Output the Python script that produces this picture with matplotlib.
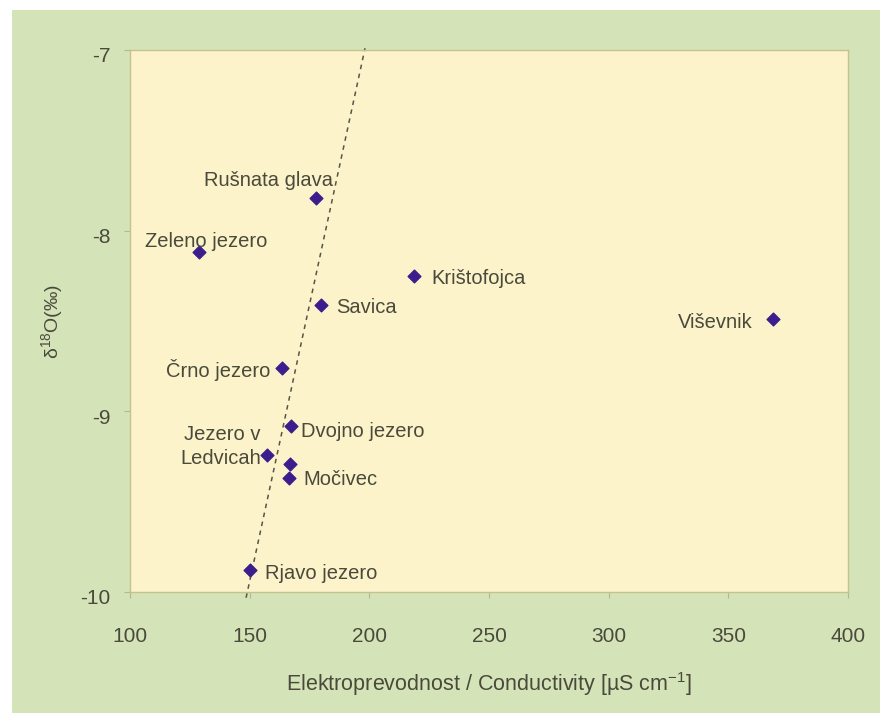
import matplotlib
matplotlib.use("Agg")
import matplotlib.pyplot as plt
import matplotlib.transforms as mtransforms
from matplotlib.patches import Rectangle

plt.rcParams["font.family"] = ["Liberation Sans", "DejaVu Sans"]
plt.rcParams["mathtext.fontset"] = "custom"
plt.rcParams["mathtext.rm"] = "Liberation Sans"

# lakes: conductivity [uS/cm] vs delta 18O [permil]
names = ["Rušnata glava", "Zeleno jezero", "Krištofojca", "Savica", "Viševnik",
         "Črno jezero", "Dvojno jezero", "Jezero v\nLedvicah", "", "Močivec",
         "Rjavo jezero"]
cond = [177.7, 128.8, 218.7, 179.8, 368.7, 163.5, 167.3, 157.2, 166.9, 166.4, 150.1]
d18o = [-7.82, -8.12, -8.25, -8.41, -8.49, -8.76, -9.08, -9.24, -9.29, -9.37, -9.88]

# label offsets in pixels (dx, dy) and alignment
lab_dx = [17, 7, 17, 15, -20, -12, 10, -6, 0, 14, 15]
lab_dy = [18, 11, -3, -3, -3, -2, -6, 8, 0, -1, -3]
lab_ha = ["right", "center", "left", "left", "right", "right", "left", "right",
          "left", "left", "left"]

# dashed trend line (slope / intercept) and its x extent
trend_slope = 0.0612
trend_icpt = -19.12
trend_x = [148.5, 198.2]

BG_OUT = "#d5e3b8"
BG_IN = "#fdf3ca"
TXT = "#4a4a3c"
MARK = "#3b1d8c"

fig = plt.figure(figsize=(8.8, 7.13), dpi=100)
fig.patch.set_facecolor("white")
fig.patches.append(Rectangle((12 / 880, 0), 1, 1 - 10 / 713, transform=fig.transFigure,
                             facecolor=BG_OUT, edgecolor="none", zorder=-10))

ax = fig.add_axes([130 / 880, 121 / 713, 718 / 880, 542 / 713])
ax.set_facecolor(BG_IN)
for s in ax.spines.values():
    s.set_color("#c4c290")
    s.set_linewidth(1.0)

ty = [trend_slope * v + trend_icpt for v in trend_x]
ax.plot(trend_x, ty, linestyle=(0, (3, 3)), color="#555548", linewidth=1.1,
        clip_on=False, zorder=2)

ax.scatter(cond, d18o, marker="D", s=42, color=MARK, zorder=3, clip_on=False)

for n, x, y, dx, dy, ha in zip(names, cond, d18o, lab_dx, lab_dy, lab_ha):
    if not n:
        continue
    ax.annotate(n, (x, y), xytext=(dx, dy), textcoords="offset pixels",
                ha=ha, va="center", fontsize=14.5, color=TXT,
                multialignment="right" if ha == "right" else "left",
                linespacing=1.3)

ax.set_xlim(100, 400)
ax.set_ylim(-10, -7)
ax.set_xticks([100, 150, 200, 250, 300, 350, 400])
ax.set_yticks([-10, -9, -8, -7])
ax.set_yticklabels(["-10", "-9", "-8", "-7"])
ax.tick_params(axis="x", direction="out", length=4, color="#b8b690", pad=21,
               labelsize=15, labelcolor=TXT)
ax.tick_params(axis="y", direction="out", length=4, color="#b8b690", pad=10,
               labelsize=15, labelcolor=TXT)
off = mtransforms.ScaledTranslation(0, -5 / 100, fig.dpi_scale_trans)
for lab in ax.get_yticklabels():
    lab.set_transform(lab.get_transform() + off)

ax.set_xlabel("Elektroprevodnost / Conductivity [µS cm$^{\\mathregular{-1}}$]",
              fontsize=15.5, color=TXT, va="center")
ax.xaxis.set_label_coords(0.5, -0.170)
ax.set_ylabel("$\\mathregular{\\delta^{18}}$O(‰)", fontsize=14, color=TXT, va="center")
ax.yaxis.set_label_coords(-0.109, 0.5)

fig.savefig("out.png", dpi=100)
